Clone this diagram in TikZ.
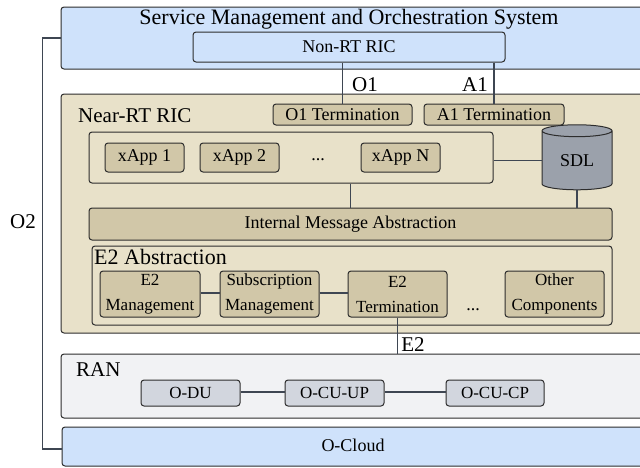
\documentclass[tikz,border=0pt]{standalone}
\usepackage{fontspec}
\setmainfont{Liberation Serif}
\usetikzlibrary{calc,positioning,shapes.geometric}

\definecolor{smoblue}{RGB}{207,226,251}
\definecolor{ricbeige}{RGB}{232,225,201}
\definecolor{rictan}{RGB}{209,199,168}
\definecolor{sdlgray}{RGB}{155,161,171}
\definecolor{ranwhite}{RGB}{241,242,244}
\definecolor{rangray}{RGB}{210,214,222}
\definecolor{edge}{RGB}{45,45,45}
\definecolor{wire}{RGB}{62,70,82}

\begin{document}
\begin{tikzpicture}[x=1pt, y=-1pt,
    box/.style={draw=edge, line width=1pt, rounded corners=3pt, inner sep=0pt, align=center},
    bigbox/.style={box, minimum width=599pt},
    tanbox/.style={box, fill=rictan, font=\fontsize{18}{20}\selectfont},
    e2box/.style={tanbox, minimum width=100pt, minimum height=46pt, font=\fontsize{17}{25}\selectfont},
    ranbox/.style={box, fill=rangray, minimum width=99pt, minimum height=26pt, font=\fontsize{17}{20}\selectfont},
    biglabel/.style={font=\fontsize{21}{24}\selectfont, inner sep=0pt},
    link/.style={draw=wire, line width=1.5pt}]
    \clip (0,0) rectangle (640,467);
    \fill[white] (0,0) rectangle (640,467);

    % SMO
    \node[bigbox, fill=smoblue, minimum height=62pt] (smo) at (360.5,38) {};
    \node[font=\fontsize{22}{24}\selectfont, inner sep=0pt] (smotitle) at (349,19) {Service Management and Orchestration System};
    \node[box, fill=smoblue, minimum width=312pt, minimum height=30pt, font=\fontsize{18}{20}\selectfont] (nonrt) at (349,47) {Non-RT RIC};

    % Near-RT RIC
    \node[bigbox, fill=ricbeige, minimum height=239pt] (nearrt) at (360.5,213.5) {};
    \node[biglabel, anchor=west] (nearrtlabel) at (78,116) {Near-RT RIC};
    \node[tanbox, minimum width=139pt, minimum height=21pt] (o1t) at (342.5,114.5) {O1 Termination};
    \node[tanbox, minimum width=140pt, minimum height=21pt] (a1t) at (494,114.5) {A1 Termination};

    \node[box, fill=ricbeige, minimum width=404pt, minimum height=51pt] (xcont) at (291,157.5) {};
    \node[tanbox, minimum width=79pt, minimum height=29pt] (xapp1) at (144.5,157.5) {xApp 1};
    \node[tanbox, minimum width=79pt, minimum height=29pt] (xapp2) at (239.5,157.5) {xApp 2};
    \node[font=\fontsize{18}{20}\selectfont] (xdots) at (318,160) {...};
    \node[tanbox, minimum width=79pt, minimum height=29pt] (xappn) at (400.5,157.5) {xApp N};

    \node[cylinder, shape border rotate=90, aspect=0.35, draw=edge, line width=1pt, fill=sdlgray,
        minimum width=70pt, minimum height=65pt, inner sep=0pt, font=\fontsize{18}{20}\selectfont] (sdl) at (577,160.5) {SDL};

    \node[tanbox, minimum width=523pt, minimum height=32pt] (ima) at (350.5,224) {Internal Message Abstraction};

    \node[box, fill=ricbeige, minimum width=520pt, minimum height=79pt] (e2cont) at (352,285.5) {};
    \node[biglabel, anchor=west, font=\fontsize{22}{24}\selectfont] (e2abs) at (94,257) {E2 Abstraction};
    \node[e2box] (e2m) at (150,294) {E2\\Management};
    \node[e2box, minimum width=99pt] (subm) at (269.5,294) {Subscription\\Management};
    \node[e2box, minimum width=99pt] (e2t) at (397.5,294) {E2\\Termination};
    \node[font=\fontsize{18}{20}\selectfont] (e2dots) at (473,310) {...};
    \node[e2box, minimum width=99pt] (other) at (554.5,294) {Other\\Components};

    % RAN
    \node[bigbox, fill=ranwhite, minimum height=64pt] (ran) at (360.5,386) {};
    \node[biglabel, anchor=west] (ranlabel) at (76,370) {RAN};
    \node[ranbox] (odu) at (190.5,393) {O-DU};
    \node[ranbox] (ocuup) at (334.5,393) {O-CU-UP};
    \node[ranbox, minimum width=98pt] (ocucp) at (495,393) {O-CU-CP};

    % O-Cloud
    \node[bigbox, fill=smoblue, minimum height=39pt] (ocloud) at (361.5,446.5) {};
    \node[font=\fontsize{18}{20}\selectfont, inner sep=0pt] (ocloudlabel) at (353,445) {O-Cloud};

    % interfaces
    \draw[link] (nonrt.south -| o1t.north) -- (o1t.north);
    \draw[link] (nonrt.south -| a1t.north) -- (a1t.north);
    \node[biglabel] (o1label) at (365,85) {O1};
    \node[biglabel] (a1label) at (475,85) {A1};
    \draw[link] (sdl.west) -- (sdl.west -| xcont.east);
    \draw[link] (xcont.south -| ima.north) -- (ima.north);
    \draw[link] (sdl.south) -- (sdl.south |- ima.north);
    \draw[link] (e2m.east |- 0,293) -- (subm.west |- 0,293);
    \draw[link] (subm.east |- 0,293) -- (e2t.west |- 0,293);
    \draw[link] (e2t.south) -- (e2t.south |- ran.north);
    \node[biglabel] (e2label) at (413,345) {E2};
    \draw[link] (odu.east |- 0,392) -- (ocuup.west |- 0,392);
    \draw[link] (ocuup.east |- 0,392) -- (ocucp.west |- 0,392);
    \draw[link] (smo.west) -- ++(-18,0) |- ($(ocloud.west)+(0,2.5)$);
    \node[biglabel] (o2label) at (23,222) {O2};
\end{tikzpicture}
\end{document}
